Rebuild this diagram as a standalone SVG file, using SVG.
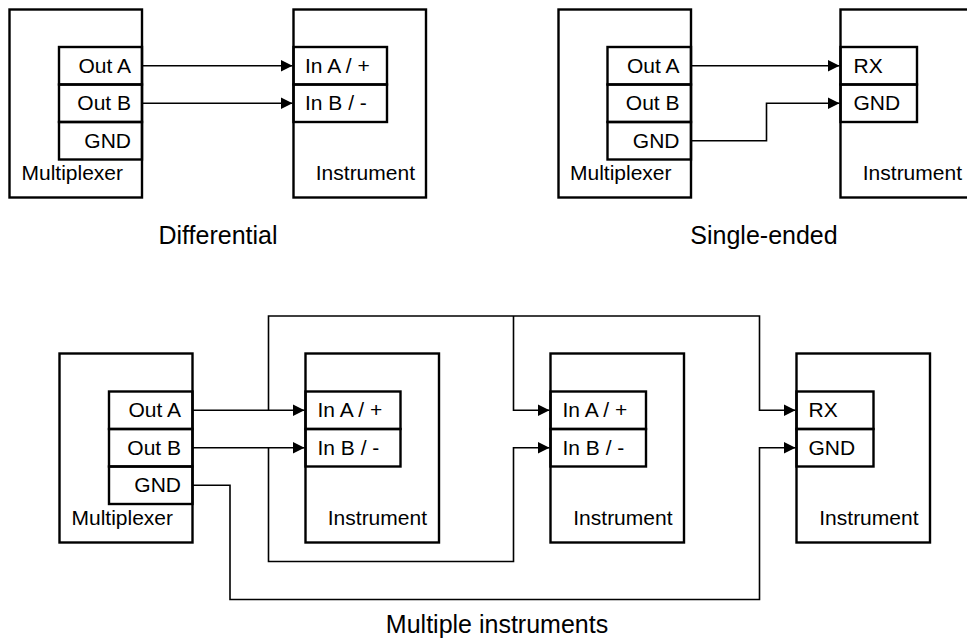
<svg xmlns="http://www.w3.org/2000/svg" width="967" height="644" viewBox="0 0 967 644">
<defs>
<style>
.box{fill:#fff;stroke:#000;stroke-width:2.4}
.port{fill:none;stroke:#000;stroke-width:2.4}
.wire{fill:none;stroke:#000;stroke-width:1.6}
text{font-family:"Liberation Sans",Arial,Helvetica,sans-serif;font-size:21px;fill:#000}
.e{text-anchor:end}
.cap{font-size:25px;text-anchor:middle}
</style>
<marker id="arr" viewBox="0 0 12 12" markerWidth="12" markerHeight="12" refX="12" refY="6" orient="auto" markerUnits="userSpaceOnUse">
<path d="M0,0 L12,6 L0,12 z" fill="#000"/>
</marker>
</defs>
<rect width="967" height="644" fill="#fff"/>

<!-- Differential -->
<g id="mux1">
<rect class="box" x="9.5" y="9.5" width="132.5" height="188"/>
<rect class="port" x="59" y="47" width="83" height="37.5"/>
<rect class="port" x="59" y="84.5" width="83" height="37.5"/>
<rect class="port" x="59" y="122" width="83" height="37.5"/>
<text class="e" x="131" y="72.5">Out A</text>
<text class="e" x="131" y="110">Out B</text>
<text class="e" x="131" y="147.5">GND</text>
<text x="21.5" y="180">Multiplexer</text>
</g>
<g id="inst1">
<rect class="box" x="293.5" y="9.5" width="132.5" height="188"/>
<rect class="port" x="293.5" y="47" width="93.5" height="37.5"/>
<rect class="port" x="293.5" y="84.5" width="93.5" height="37.5"/>
<text x="305" y="72.5">In A / +</text>
<text x="305" y="110">In B / -</text>
<text class="e" x="415" y="180">Instrument</text>
</g>

<!-- Single-ended -->
<g id="mux2">
<rect class="box" x="558.5" y="9.5" width="132.5" height="188"/>
<rect class="port" x="607.5" y="47" width="83.5" height="37.5"/>
<rect class="port" x="607.5" y="84.5" width="83.5" height="37.5"/>
<rect class="port" x="607.5" y="122" width="83.5" height="37.5"/>
<text class="e" x="679.5" y="72.5">Out A</text>
<text class="e" x="679.5" y="110">Out B</text>
<text class="e" x="679.5" y="147.5">GND</text>
<text x="570" y="180">Multiplexer</text>
</g>
<g id="inst2">
<rect class="box" x="840.5" y="9.5" width="132.5" height="188"/>
<rect class="port" x="840.5" y="47" width="76.5" height="37.5"/>
<rect class="port" x="840.5" y="84.5" width="76.5" height="37.5"/>
<text x="853.5" y="72.5">RX</text>
<text x="853.5" y="110">GND</text>
<text class="e" x="962" y="180">Instrument</text>
</g>

<!-- Multiple instruments -->
<g id="mux3">
<rect class="box" x="59.5" y="353.5" width="133" height="189"/>
<rect class="port" x="109" y="391.5" width="83.5" height="37.5"/>
<rect class="port" x="109" y="429" width="83.5" height="37.5"/>
<rect class="port" x="109" y="466.5" width="83.5" height="37.5"/>
<text class="e" x="181" y="417">Out A</text>
<text class="e" x="181" y="454.5">Out B</text>
<text class="e" x="181" y="492">GND</text>
<text x="71.5" y="525">Multiplexer</text>
</g>
<g id="inst3">
<rect class="box" x="305.5" y="353.5" width="133.5" height="189"/>
<rect class="port" x="305.5" y="391.5" width="95" height="37.5"/>
<rect class="port" x="305.5" y="429" width="95" height="37.5"/>
<text x="317.5" y="417">In A / +</text>
<text x="317.5" y="454.5">In B / -</text>
<text class="e" x="427" y="525">Instrument</text>
</g>
<g id="inst4">
<rect class="box" x="550.5" y="353.5" width="133.5" height="189"/>
<rect class="port" x="550.5" y="391.5" width="95.5" height="37.5"/>
<rect class="port" x="550.5" y="429" width="95.5" height="37.5"/>
<text x="562.5" y="417">In A / +</text>
<text x="562.5" y="454.5">In B / -</text>
<text class="e" x="672.5" y="525">Instrument</text>
</g>
<g id="inst5">
<rect class="box" x="796.5" y="353.5" width="133.5" height="189"/>
<rect class="port" x="796.5" y="391.5" width="77" height="37.5"/>
<rect class="port" x="796.5" y="429" width="77" height="37.5"/>
<text x="808.5" y="417">RX</text>
<text x="808.5" y="454.5">GND</text>
<text class="e" x="918.5" y="525">Instrument</text>
</g>

<g id="connectors">
<path class="wire" d="M142,65.75 H292.5" marker-end="url(#arr)"/>
<path class="wire" d="M142,103.25 H292.5" marker-end="url(#arr)"/>
<path class="wire" d="M691,65.75 H839.5" marker-end="url(#arr)"/>
<path class="wire" d="M691,140.75 H766.5 V103.25 H839.5" marker-end="url(#arr)"/>
<path class="wire" d="M192.5,410.25 H304.5" marker-end="url(#arr)"/>
<path class="wire" d="M192.5,447.75 H304.5" marker-end="url(#arr)"/>
<path class="wire" d="M268.5,410.25 V316 H759.5 V410.25 H795.5" marker-end="url(#arr)"/>
<path class="wire" d="M513.5,316 V410.25 H549.5" marker-end="url(#arr)"/>
<path class="wire" d="M268.5,447.75 V561.5 H513.5 V447.75 H549.5" marker-end="url(#arr)"/>
<path class="wire" d="M192.5,485.25 H230 V599.5 H759.5 V447.75 H795.5" marker-end="url(#arr)"/>
</g>

<g id="captions">
<text class="cap" x="218" y="244">Differential</text>
<text class="cap" x="764" y="244">Single-ended</text>
<text class="cap" x="497" y="633">Multiple instruments</text>
</g>
</svg>
